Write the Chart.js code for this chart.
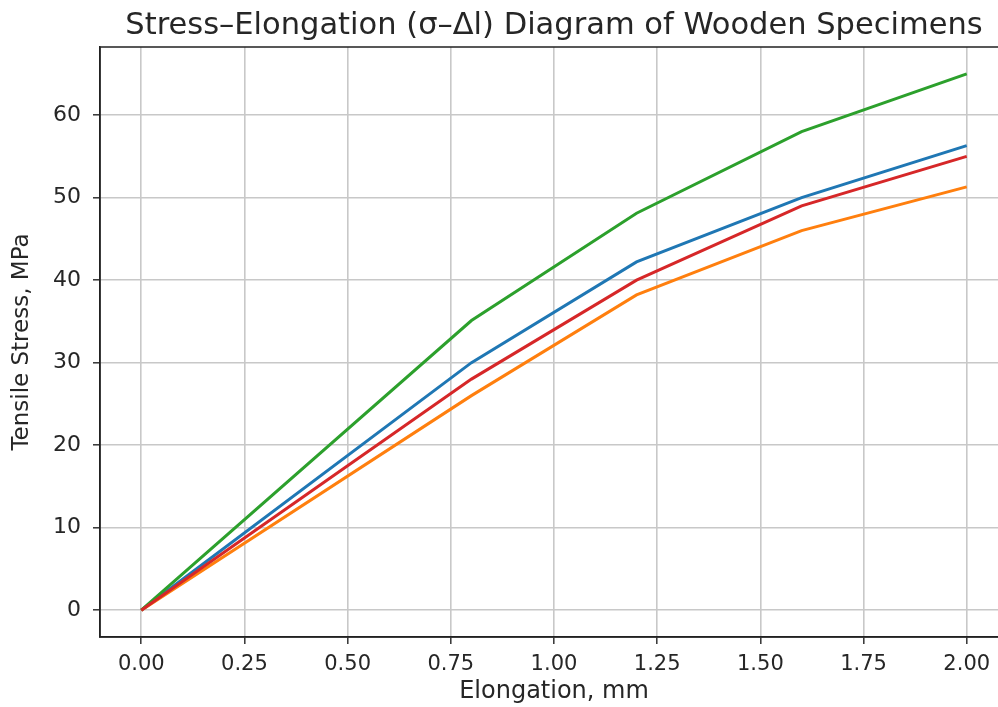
<!DOCTYPE html>
<html>
<head>
<meta charset="utf-8">
<script src="https://cdn.jsdelivr.net/npm/chart.js@4"></script>
<style>
  html, body { margin: 0; padding: 0; background: #fff; overflow: hidden; }
  #wrap { width: 1012px; height: 707px; }
</style>
</head>
<body>
<div id="wrap"><canvas id="chart" width="1012" height="707"></canvas></div>
<script>
// Data
const elongation = [0, 0.8, 1.2, 1.6, 2.0];
const specimen1 = [0, 30, 42.2, 50, 56.3];   // blue
const specimen2 = [0, 26, 38.2, 46, 51.3];   // orange
const specimen3 = [0, 35.1, 48.1, 58, 65];   // green
const specimen4 = [0, 28, 40, 49, 55];       // red

const xTicks = [0, 0.25, 0.5, 0.75, 1.0, 1.25, 1.5, 1.75, 2.0];
const yTicks = [0, 10, 20, 30, 40, 50, 60];

const toPts = ys => elongation.map((x, i) => ({ x, y: ys[i] }));

Chart.defaults.font.family = "'DejaVu Sans', sans-serif";
Chart.defaults.color = '#262626';

// box around the plot area (top + right spines)
const frame = {
  id: 'frame',
  afterDraw(chart) {
    const { ctx, chartArea: a } = chart;
    ctx.save();
    ctx.strokeStyle = '#222';
    ctx.lineWidth = 1.5;
    ctx.strokeRect(a.left, a.top, a.right - a.left, a.bottom - a.top);
    ctx.restore();
  }
};

const line = (label, ys, color, order) => ({
  label, data: toPts(ys), borderColor: color, backgroundColor: color,
  borderWidth: 3, pointRadius: 0, tension: 0, order
});

new Chart(document.getElementById('chart'), {
  type: 'line',
  data: {
    datasets: [
      line('Specimen 1', specimen1, '#1f77b4', 4),
      line('Specimen 2', specimen2, '#ff7f0e', 3),
      line('Specimen 3', specimen3, '#2ca02c', 2),
      line('Specimen 4', specimen4, '#d62728', 1)
    ]
  },
  options: {
    responsive: false,
    animation: false,
    layout: { padding: { left: 0, right: 4, top: 0, bottom: 0 } },
    plugins: {
      legend: { display: false },
      tooltip: { enabled: false },
      title: {
        display: true,
        fullSize: false,
        text: 'Stress–Elongation (σ–Δl) Diagram of Wooden Specimens',
        font: { size: 30.5, weight: 'normal' },
        color: '#262626',
        padding: { top: 8, bottom: 2.4 }
      }
    },
    scales: {
      x: {
        type: 'linear',
        min: -0.1,
        max: 2.1,
        afterBuildTicks: s => { s.ticks = xTicks.map(v => ({ value: v })); },
        afterFit: s => { s.height = 70; },
        ticks: {
          font: { size: 21 },
          padding: 8,
          maxRotation: 0,
          callback: v => v.toFixed(2)
        },
        grid: { color: '#c8c8c8', lineWidth: 1.6, tickLength: 7, tickColor: '#333', tickWidth: 1.5 },
        border: { color: '#222', width: 1.5 },
        title: { display: true, text: 'Elongation, mm', font: { size: 24 }, padding: { top: 0, bottom: 1 } }
      },
      y: {
        type: 'linear',
        min: -3.25,
        max: 68.25,
        afterBuildTicks: s => { s.ticks = yTicks.map(v => ({ value: v })); },
        afterFit: s => { s.width = 100; },
        ticks: { font: { size: 22 }, padding: 12 },
        grid: { color: '#c8c8c8', lineWidth: 1.6, tickLength: 7, tickColor: '#333', tickWidth: 1.5 },
        border: { color: '#222', width: 1.5 },
        title: { display: true, text: 'Tensile Stress, MPa', font: { size: 23 }, padding: { top: 8, bottom: 0 } }
      }
    }
  },
  plugins: [frame]
});
</script>
</body>
</html>
